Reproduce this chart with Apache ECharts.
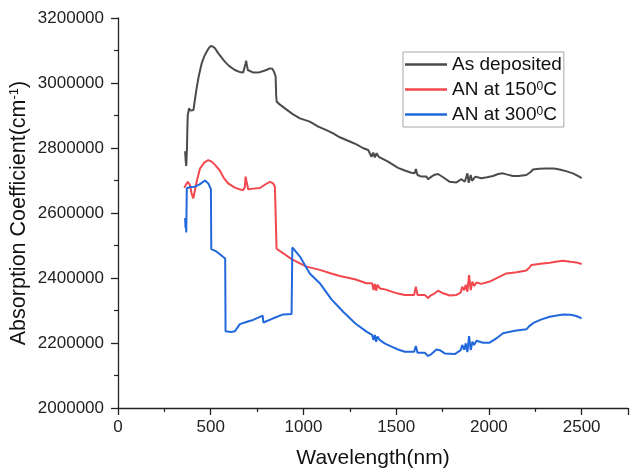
<!DOCTYPE html>
<html><head><meta charset="utf-8">
<script src="https://cdn.jsdelivr.net/npm/echarts@6/dist/echarts.min.js"></script>
<style>html,body{margin:0;padding:0;background:#fff}#c{width:630px;height:470px}</style>
</head><body><div id="c"></div>
<script>
const seriesNames = ['As deposited', 'AN at 150°C', 'AN at 300°C'];
const legendLabels = ['As deposited', 'AN at 150{s|0}C', 'AN at 300{s|0}C'];
const xTitle = 'Wavelength(nm)';
const yTitle = 'Absorption Coefficient(cm{s|-1})';

const asDeposited = [[362,2790000],[365,2760000],[368,2745000],[370,2750000],[372,2800000],[374,2860000],[376,2900000],[383,2922000],[390,2915000],[397,2910000],[407,2917000],[415,2950000],[424,2984000],[435,3020000],[451,3060000],[465,3082000],[478,3096000],[490,3108000],[501,3114000],[512,3112000],[523,3107000],[540,3092000],[560,3077000],[577,3065000],[600,3052000],[630,3040000],[655,3034000],[675,3032000],[684,3036000],[688,3060000],[691,3069000],[695,3055000],[700,3040000],[710,3036000],[730,3032000],[756,3032000],[780,3036000],[800,3040000],[819,3045000],[832,3044000],[841,3035000],[850,3020000],[853,2960000],[856,2942000],[870,2935000],[900,2922000],[940,2905000],[981,2891000],[1034,2881000],[1080,2866000],[1124,2855000],[1160,2845000],[1196,2833000],[1250,2820000],[1286,2811000],[1320,2800000],[1349,2794000],[1358,2788000],[1367,2773000],[1376,2786000],[1385,2771000],[1394,2784000],[1406,2773000],[1430,2766000],[1456,2758000],[1510,2739000],[1550,2730000],[1582,2724000],[1600,2722000],[1606,2735000],[1615,2717000],[1636,2712000],[1663,2712000],[1672,2704000],[1690,2712000],[1708,2718000],[1726,2720000],[1753,2710000],[1789,2696000],[1825,2694000],[1852,2704000],[1870,2696000],[1884,2722000],[1891,2693000],[1902,2717000],[1909,2699000],[1927,2712000],[1959,2707000],[1990,2710000],[2022,2714000],[2050,2720000],[2076,2722000],[2100,2718000],[2130,2714000],[2160,2714000],[2202,2717000],[2225,2726000],[2238,2734000],[2270,2736000],[2310,2737000],[2350,2737000],[2381,2734000],[2420,2728000],[2453,2722000],[2480,2714000],[2500,2707000]];

const an150 = [[357,2678000],[376,2696000],[388,2686000],[397,2660000],[406,2645000],[415,2670000],[424,2696000],[442,2737000],[465,2755000],[487,2763000],[505,2758000],[523,2748000],[550,2730000],[570,2708000],[594,2691000],[630,2678000],[660,2672000],[675,2671000],[684,2680000],[688,2712000],[692,2700000],[702,2673000],[730,2675000],[765,2677000],[800,2690000],[819,2696000],[835,2692000],[846,2681000],[853,2675000],[855,2490000],[891,2476000],[936,2458000],[981,2445000],[1017,2435000],[1088,2425000],[1150,2414000],[1196,2406000],[1277,2396000],[1340,2384000],[1349,2379000],[1370,2384000],[1378,2363000],[1385,2382000],[1392,2361000],[1399,2379000],[1412,2368000],[1440,2365000],[1475,2358000],[1510,2352000],[1546,2348000],[1597,2348000],[1606,2373000],[1615,2348000],[1654,2348000],[1663,2352000],[1672,2338000],[1685,2346000],[1708,2353000],[1726,2361000],[1753,2353000],[1789,2346000],[1825,2348000],[1848,2355000],[1856,2373000],[1867,2362000],[1875,2379000],[1884,2358000],[1893,2409000],[1902,2363000],[1911,2389000],[1920,2376000],[1933,2386000],[1959,2382000],[2004,2389000],[2050,2402000],[2094,2414000],[2150,2418000],[2202,2423000],[2218,2432000],[2229,2440000],[2280,2444000],[2328,2447000],[2360,2450000],[2399,2453000],[2440,2450000],[2471,2448000],[2500,2443000]];

const an300 = [[362,2585000],[364,2555000],[366,2570000],[368,2540000],[370,2545000],[371,2676000],[390,2680000],[415,2681000],[440,2688000],[469,2700000],[487,2691000],[501,2673000],[503,2489000],[532,2481000],[578,2460000],[580,2236000],[610,2234000],[630,2236000],[645,2248000],[657,2258000],[700,2266000],[729,2271000],[780,2284000],[784,2263000],[837,2276000],[891,2288000],[936,2289000],[940,2494000],[981,2466000],[1034,2414000],[1088,2384000],[1150,2335000],[1214,2296000],[1280,2260000],[1340,2235000],[1349,2235000],[1370,2225000],[1378,2209000],[1385,2225000],[1392,2204000],[1399,2220000],[1412,2209000],[1440,2198000],[1475,2189000],[1510,2180000],[1546,2173000],[1597,2173000],[1606,2191000],[1615,2170000],[1654,2170000],[1663,2176000],[1672,2160000],[1690,2166000],[1717,2180000],[1735,2178000],[1762,2168000],[1816,2166000],[1848,2178000],[1856,2194000],[1867,2179000],[1875,2199000],[1884,2172000],[1893,2221000],[1902,2178000],[1911,2204000],[1920,2194000],[1933,2207000],[1968,2201000],[2004,2201000],[2040,2214000],[2076,2230000],[2140,2238000],[2202,2242000],[2218,2252000],[2238,2261000],[2280,2272000],[2328,2281000],[2399,2288000],[2440,2287000],[2471,2283000],[2500,2276000]];

const seriesData = [asDeposited, an150, an300];
const colors = ['#4b4b4b', '#f2474d', '#2068db'];

const chart = echarts.init(document.getElementById('c'), null, {renderer: 'canvas'});
const font = 'Liberation Sans, Arial, sans-serif';
const axisCommon = {
  axisLine: {show: true, onZero: false, lineStyle: {color: '#222', width: 1.3}},
  axisTick: {show: true, inside: false, length: 7, lineStyle: {color: '#222', width: 1.3}},
  minorTick: {show: true, splitNumber: 2, length: 4, lineStyle: {color: '#222', width: 1.2}},
  splitLine: {show: false},
  minorSplitLine: {show: false}
};
chart.setOption({
  animation: false,
  backgroundColor: '#fff',
  textStyle: {fontFamily: font},
  grid: {left: 118, right: 2, top: 18, bottom: 62, containLabel: false, outerBoundsMode: 'none'},
  legend: {
    show: true,
    orient: 'vertical',
    left: 403, top: 52,
    padding: [3, 2, 3, 2],
    itemGap: 6,
    itemWidth: 42, itemHeight: 2.5,
    icon: 'rect',
    borderColor: '#a8a8a8', borderWidth: 1,
    data: seriesNames,
    formatter: function (name) { return legendLabels[seriesNames.indexOf(name)]; },
    textStyle: {
      fontFamily: font, fontSize: 19, color: '#111', lineHeight: 18,
      rich: {s: {fontSize: 12, fontFamily: font, color: '#111', verticalAlign: 'top', lineHeight: 18, padding: [0,0,6,0]}}
    }
  },
  xAxis: Object.assign({
    type: 'value', min: 0, max: 2750, interval: 500,
    name: xTitle, nameLocation: 'middle', nameGap: 40, nameMoveOverlap: false,
    nameTextStyle: {fontFamily: font, fontSize: 21, color: '#111'},
    axisLabel: {fontFamily: font, fontSize: 17, color: '#222', margin: 11, showMaxLabel: false,
      formatter: v => String(v)}
  }, axisCommon),
  yAxis: Object.assign({
    type: 'value', min: 2000000, max: 3200000, interval: 200000,
    name: yTitle, nameLocation: 'middle', nameGap: 88, nameMoveOverlap: false,
    nameTextStyle: {fontFamily: font, fontSize: 21.5, color: '#111',
      rich: {s: {fontSize: 13, fontFamily: font, color: '#111', verticalAlign: 'top', padding: [0,0,8,0]}}},
    axisLabel: {fontFamily: font, fontSize: 17, color: '#222', margin: 14, formatter: v => String(v)}
  }, axisCommon),
  series: seriesNames.map((n, i) => ({
    name: n, type: 'line', data: seriesData[i],
    showSymbol: false, symbol: 'none', smooth: false,
    itemStyle: {color: colors[i]},
    lineStyle: {color: colors[i], width: 2},
    emphasis: {disabled: true}, z: 2 + i
  }))
});
</script>
</body></html>
